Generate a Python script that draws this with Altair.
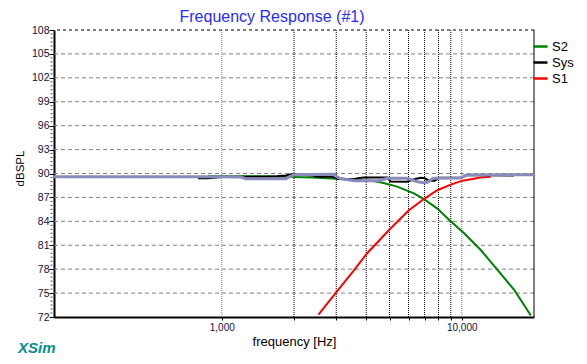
import altair as alt
import pandas as pd
import numpy as np

# ---------------- data ----------------
purple_f = [200, 1000, 1200, 1260, 1850, 1900, 2000, 2900, 3100, 3550, 4500, 4900,
            5900, 6500, 6900, 7200, 7600, 9900, 10500, 20000]
purple_db = [89.6, 89.6, 89.55, 89.35, 89.35, 89.55, 89.85, 89.9, 89.4, 89.1, 89.1, 89.4,
             89.4, 89.0, 88.84, 88.9, 89.4, 89.45, 89.8, 89.85]

sys_f = [796, 877, 1000, 1500, 1700, 1850, 1950, 2100, 2400, 2500, 2900, 3050, 3550, 3700,
         3900, 4900, 5050, 5900, 6400, 6750, 7000, 7300, 7700, 8100, 9900, 10500, 16500]
sys_db = [89.4, 89.4, 89.55, 89.6, 89.65, 89.75, 89.9, 89.85, 89.75, 89.6, 89.6, 89.3, 89.27, 89.4,
          89.5, 89.5, 89.0, 88.97, 89.3, 89.47, 89.4, 89.1, 89.1, 89.47, 89.5, 89.8, 89.75]

s2_f = [877, 1500, 2000, 2400, 3000, 3600, 4200, 4584, 5386, 6320, 6955, 7912, 8715,
        10230, 12000, 14090, 16540, 19100, 19400]
s2_db = [89.68, 89.65, 89.55, 89.5, 89.35, 89.2, 89.1, 88.9, 88.35, 87.5, 86.8, 85.6, 84.4,
         82.5, 80.4, 77.9, 75.4, 72.5, 72.2]

s1_f = [2530, 3020, 3500, 4034, 5047, 6022, 6955, 7912, 8993, 10070, 12000, 13210]
s1_db = [72.3, 75.2, 77.6, 80.0, 83.1, 85.4, 86.8, 87.9, 88.6, 89.1, 89.5, 89.6]

series_names = ["S2", "Sys", "S1"]
series_colors = ["#008000", "#000000", "#ff0000"]

y_major = [72, 75, 78, 81, 84, 87, 90, 93, 96, 99, 102, 105, 108]
y_grid = [75, 78, 81, 84, 87, 90, 93, 96, 99, 102, 105]
y_top = [108]
x_ticks = [1000, 2000, 3000, 4000, 5000, 6000, 7000, 8000, 9000, 10000]
x_grid_dark = [2000, 3000, 4000, 5000, 6000, 7000, 8000, 9000]
x_grid_light = [1000, 10000]
y_minor = [v for v in np.arange(72, 108.01, 0.5) if v % 3 != 0]

FONT = "Liberation Sans"
W, H = 480, 287

xscale = alt.Scale(type="log", domain=[200, 20000], nice=False)
yscale = alt.Scale(domain=[72, 108], nice=False, zero=False)

x_axis = alt.Axis(values=x_ticks, grid=False, tickSize=3, tickColor="black",
                  domainColor="black", domainWidth=2, format=",.0f",
                  labelExpr="(datum.value == 1000 || datum.value == 10000) ? datum.label : ''",
                  labelFontSize=10, labelFont=FONT, labelColor="#10103a", labelPadding=2,
                  labelOverlap=False, labelFlush=False,
                  title="frequency [Hz]", titleFont=FONT, titleFontSize=13,
                  titleFontWeight="normal", titleColor="black",
                  titleBaseline="alphabetic", titleY=28)
y_axis = alt.Axis(values=y_major, grid=False, tickSize=5, tickColor="black",
                  domainColor="black", domainWidth=2,
                  labelFontSize=10.5, labelFont=FONT, labelColor="#10103a", labelPadding=0,
                  labelOverlap=False, labelFlush=False,
                  title="dBSPL", titleFont=FONT, titleFontSize=11.5,
                  titleFontWeight="normal", titleColor="black", titleAngle=270,
                  titleAlign="center", titleBaseline="middle", titleX=-34, titleY=138)


def X(field="f"):
    return alt.X(f"{field}:Q", scale=xscale, axis=x_axis)


def Y(field="db"):
    return alt.Y(f"{field}:Q", scale=yscale, axis=y_axis)


# grid lines
hgrid = alt.Chart(pd.DataFrame({"db": y_grid})).mark_rule(
    color="#808080", strokeDash=[4, 3], strokeWidth=1).encode(y=Y())
htop = alt.Chart(pd.DataFrame({"db": y_top})).mark_rule(
    color="#000000", strokeDash=[3, 3], strokeWidth=1).encode(y=Y())
vgrid_dark = alt.Chart(pd.DataFrame({"f": x_grid_dark})).mark_rule(
    color="#000000", strokeDash=[1, 1], strokeWidth=1).encode(x=X())
vgrid_light = alt.Chart(pd.DataFrame({"f": x_grid_light})).mark_rule(
    color="#808080", strokeDash=[1, 1], strokeWidth=1).encode(x=X())
right_border = alt.Chart(pd.DataFrame({"a": [0]})).mark_rule(
    color="black", strokeWidth=1).encode(x=alt.value(W), y=alt.value(0), y2=alt.value(H))
minor_ticks = alt.Chart(pd.DataFrame({"db": y_minor})).mark_tick(
    orient="horizontal", size=2, thickness=1, color="black").encode(
    y=Y(), x=alt.value(-2.5))

color = alt.Color("series:N",
                  scale=alt.Scale(domain=series_names, range=series_colors),
                  legend=alt.Legend(orient="none", legendX=478, legendY=8, title=None,
                                    symbolType="stroke", symbolSize=196, symbolStrokeWidth=2.5,
                                    labelFont=FONT, labelFontSize=13, labelColor="black",
                                    labelOffset=3, rowPadding=0, padding=0))


def series_layer(name, f, db):
    df = pd.DataFrame({"f": f, "db": db, "series": name})
    return alt.Chart(df).mark_line(strokeWidth=2, clip=True).encode(
        x=X(), y=Y(), color=color)


s2 = series_layer("S2", s2_f, s2_db)
s1 = series_layer("S1", s1_f, s1_db)
sysl = series_layer("Sys", sys_f, sys_db)
purple = alt.Chart(pd.DataFrame({"f": purple_f, "db": purple_db})).mark_line(
    strokeWidth=3, color="#8a8abc", clip=True).encode(x=X(), y=Y())

xsim = alt.Chart(pd.DataFrame({"a": [0]})).mark_text(
    text="XSim", font=FONT, fontSize=15, fontWeight="bold", fontStyle="italic",
    color="#078d8d", align="left", baseline="alphabetic").encode(
    x=alt.value(-36), y=alt.value(322.7))

title = alt.Chart(pd.DataFrame({"a": [0]})).mark_text(
    text="Frequency Response (#1)", font=FONT, fontSize=16, fontWeight="normal",
    color="#2a2aff", align="center", baseline="alphabetic").encode(
    x=alt.value(218), y=alt.value(-7.7))

chart = alt.layer(
    hgrid, vgrid_light, vgrid_dark, htop, right_border, minor_ticks,
    s2, s1, sysl, purple, xsim, title
).properties(
    width=W, height=H,
    autosize=alt.AutoSizeParams(type="none"),
    padding={"left": 46, "top": 22, "right": 45, "bottom": 38},
    background="white",
).configure_view(stroke=None)

chart.save("out.html", embed_options={"renderer": "svg", "actions": False})
